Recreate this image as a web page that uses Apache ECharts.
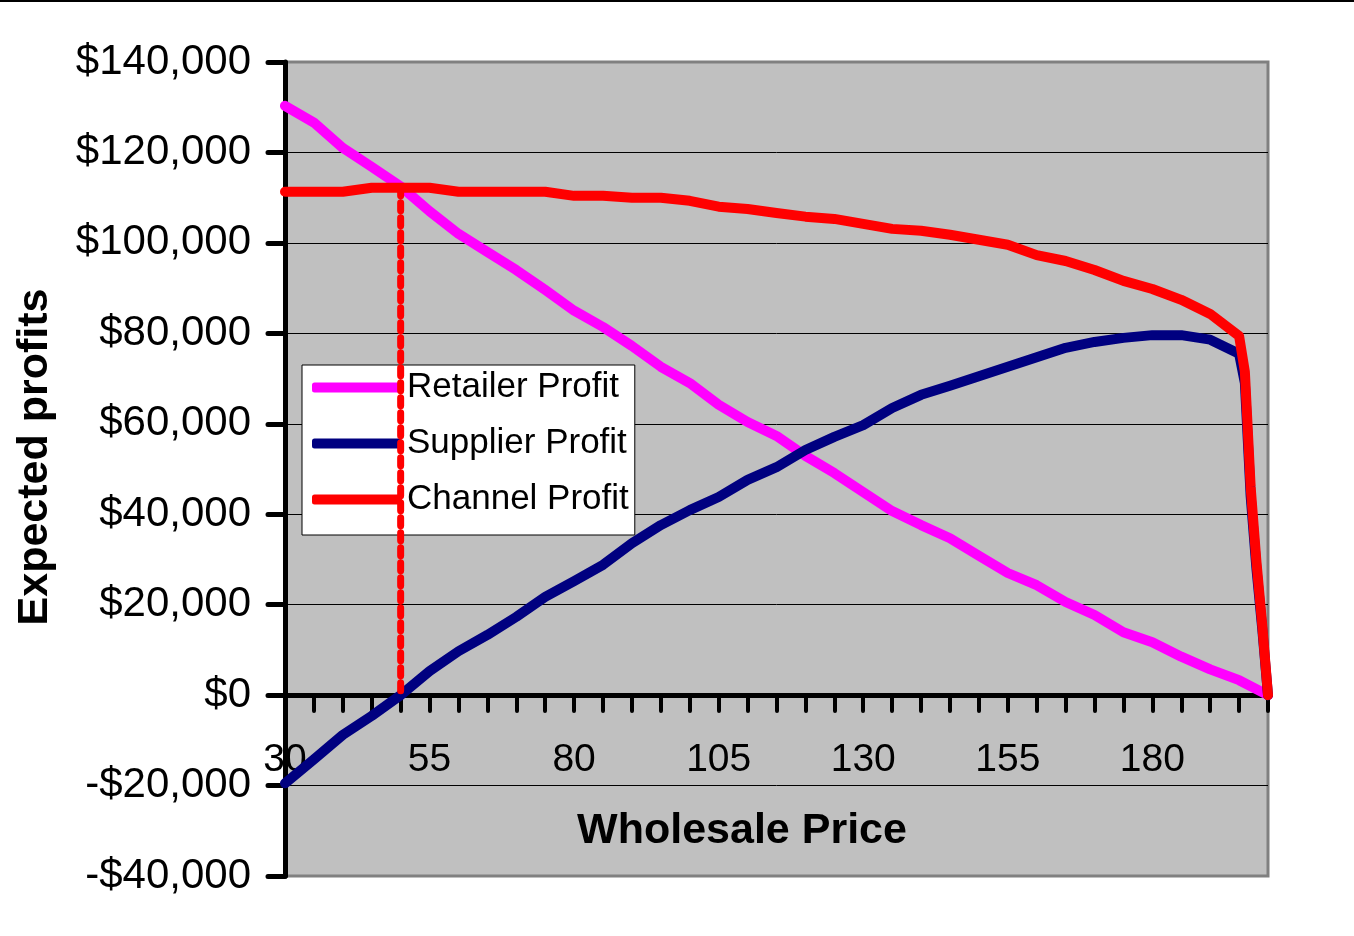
<!DOCTYPE html>
<html>
<head>
<meta charset="utf-8">
<title>Expected profits vs wholesale price</title>
<script src="https://cdn.jsdelivr.net/npm/echarts@6/dist/echarts.min.js"></script>
<style>
  html, body { margin: 0; padding: 0; background: #ffffff; }
  #chart { width: 1354px; height: 936px; }
</style>
</head>
<body>
<div id="chart"></div>
<script>
// Wholesale prices, every 5 from 30 to 200
const prices = [30, 35, 40, 45, 50, 55, 60, 65, 70, 75,
                80, 85, 90, 95, 100, 105, 110, 115, 120, 125,
                130, 135, 140, 145, 150, 155, 160, 165, 170, 175,
                180, 185, 190, 195, 200];

const retailerProfit = [130300, 126600, 121000, 116800, 112500, 107000, 102000, 98000, 94000, 89600,
                        85000, 81400, 77200, 72600, 69000, 64200, 60400, 57300, 52900, 49100,
                        44900, 40700, 37600, 34700, 30800, 27000, 24300, 20600, 17700, 13900,
                        11700, 8500, 5700, 3300, 0];

const supplierProfit = [-19500, -14200, -8800, -4600, 0, 5300, 9700, 13300, 17300, 21700,
                        25200, 28800, 33600, 37600, 40900, 43800, 47600, 50400, 54200, 57100,
                        59700, 63500, 66400, 68400, 70500, 72600, 74700, 76800, 78100, 79000,
                        79600, 79600, 78600, 75500, 0];

const channelProfit = [111300, 111300, 111300, 112200, 112200, 112200, 111300, 111300, 111300, 111300,
                       110400, 110400, 110000, 110000, 109300, 108000, 107500, 106600, 105800, 105300,
                       104200, 103100, 102700, 101800, 100700, 99600, 97300, 96000, 94000, 91600,
                       89800, 87400, 84300, 79400, 0];

// Extra prices near the top end, where the supplier and channel curves collapse
const tailPrices = [196, 197, 198, 199];
const supplierTail = [69000, 44000, 28000, 14700];
const channelTail = [71500, 46000, 29500, 15500];

// Price where the supplier breaks even
const breakEvenPrice = 50;
const breakEvenChannel = 112200;

const yTicks = { min: -40000, max: 140000, step: 20000 };
const xTicks = { min: 30, max: 200, step: 5, labelStep: 25 };

function pairs(xs, ys) {
  return xs.map((x, i) => [x, ys[i]]);
}
function withTail(base, tail) {
  const all = pairs(prices, base).concat(pairs(tailPrices, tail));
  return all.sort((a, b) => a[0] - b[0]);
}

const FONT = '"Liberation Sans", Arial, sans-serif';

// Plot rectangle
const PLOT = { left: 285, right: 86, top: 62, bottom: 60 };
const plotHeight = 936 - PLOT.top - PLOT.bottom;
// The price axis crosses the profit axis at zero
const zeroFromBottom = plotHeight * (0 - yTicks.min) / (yTicks.max - yTicks.min);

const chart = echarts.init(document.getElementById('chart'), null, { renderer: 'canvas' });

function lineSeries(name, color, data) {
  return {
    name: name,
    type: 'line',
    data: data,
    symbol: 'none',
    showSymbol: false,
    lineStyle: { color: color, width: 10, cap: 'round', join: 'round' },
    itemStyle: { color: color },
    emphasis: { disabled: true },
    z: 2
  };
}

const option = {
  animation: false,
  backgroundColor: '#ffffff',
  grid: {
    left: PLOT.left, right: PLOT.right, top: PLOT.top, bottom: PLOT.bottom,
    outerBoundsMode: 'none',
    containLabel: false,
    show: true,
    backgroundColor: '#C0C0C0',
    borderColor: '#808080',
    borderWidth: 3
  },
  xAxis: {
    type: 'value',
    position: 'bottom',
    offset: -zeroFromBottom,
    min: xTicks.min, max: xTicks.max, interval: xTicks.step,
    axisLine: { show: true, onZero: false, lineStyle: { color: '#000', width: 5 } },
    axisTick: { show: true, inside: false, length: 16, lineStyle: { color: '#000', width: 4, cap: 'round' } },
    axisLabel: {
      margin: 46, fontSize: 39, color: '#000', fontFamily: FONT,
      formatter: function (v) { return (v - xTicks.min) % xTicks.labelStep === 0 ? String(v) : ''; }
    },
    splitLine: { show: false }
  },
  yAxis: {
    type: 'value',
    min: yTicks.min, max: yTicks.max, interval: yTicks.step,
    axisLine: { show: true, onZero: false, lineStyle: { color: '#000', width: 5 } },
    axisTick: { show: true, inside: false, length: 17, lineStyle: { color: '#000', width: 5, cap: 'round' } },
    axisLabel: {
      margin: 34, fontSize: 42, color: '#000', fontFamily: FONT,
      formatter: function (v) {
        return (v < 0 ? '-$' : '$') + Math.abs(v).toLocaleString('en-US');
      }
    },
    splitLine: { show: true, showMinLine: false, showMaxLine: false, lineStyle: { color: '#000', width: 1 } }
  },
  legend: {
    orient: 'vertical',
    left: 302, top: 365,
    data: ['Retailer Profit', 'Supplier Profit', 'Channel Profit'],
    backgroundColor: '#ffffff',
    borderColor: '#000000',
    borderWidth: 1,
    padding: [5, 6, 18, 10],
    icon: 'roundRect',
    itemWidth: 90, itemHeight: 10, itemGap: 21,
    textStyle: { fontSize: 35, color: '#000', fontFamily: FONT, lineHeight: 34 },
    selectedMode: false
  },
  graphic: [
    {
      type: 'line',
      shape: { x1: 0, y1: 1, x2: 1354, y2: 1 },
      style: { stroke: '#000', lineWidth: 2 },
      silent: true
    },
    {
      type: 'text',
      x: 742, y: 831,
      style: {
        text: 'Wholesale Price',
        font: 'bold 43px ' + FONT,
        fill: '#000',
        textAlign: 'center', textVerticalAlign: 'middle',
        align: 'center', verticalAlign: 'middle'
      },
      silent: true
    },
    {
      type: 'text',
      x: 35, y: 457,
      rotation: Math.PI / 2,
      style: {
        text: 'Expected profits',
        font: 'bold 43px ' + FONT,
        fill: '#000',
        textAlign: 'center', textVerticalAlign: 'middle',
        align: 'center', verticalAlign: 'middle'
      },
      silent: true
    }
  ],
  series: [
    lineSeries('Retailer Profit', '#FF00FF', pairs(prices, retailerProfit)),
    lineSeries('Supplier Profit', '#000080', withTail(supplierProfit, supplierTail)),
    lineSeries('Channel Profit', '#FF0000', withTail(channelProfit, channelTail)),
    {
      name: 'Break-even marker',
      type: 'line',
      data: [[breakEvenPrice, breakEvenChannel], [breakEvenPrice, 0]],
      symbol: 'none',
      lineStyle: { color: '#FF0000', width: 7, type: [8, 7], cap: 'round' },
      emphasis: { disabled: true },
      silent: true,
      z: 10
    }
  ]
};

chart.setOption(option);
</script>
</body>
</html>
